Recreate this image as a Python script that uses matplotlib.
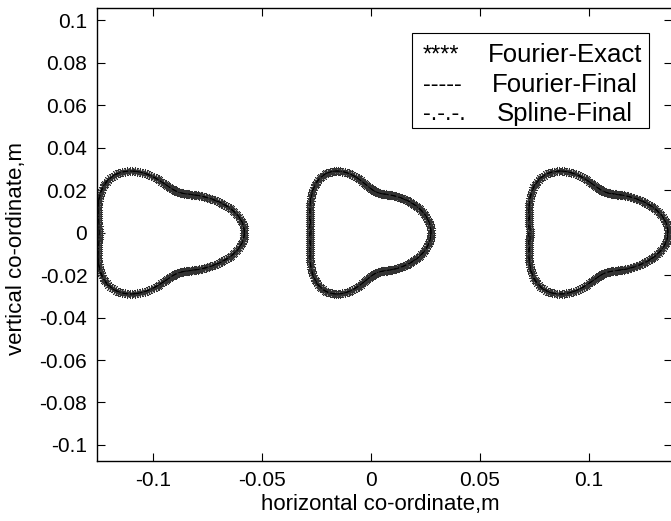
import numpy as np
import matplotlib
matplotlib.use("Agg")
import matplotlib.pyplot as plt

plt.rcParams['font.family'] = ['Liberation Sans', 'DejaVu Sans']

# Horizontal extent of each section: leading edge and trailing tip (m)
section_left = [-0.1252, -0.0280, 0.0725]
section_right = [-0.0581, 0.0275, 0.1362]
pole_offset = 0.008          # pole of the polar description

# Cosine coefficients of the polar radius r(theta) = sum a_k cos(k theta), in m
fourier_exact = [0.02880, -0.00472, 0.00589, 0.00444, -0.00158, 0.00080, 0.00030, 0.00005, 0.00006]
fourier_final = [0.02885, -0.00468, 0.00595, 0.00438, -0.00150, 0.00072, 0.00036, 0.00000, 0.00004]
spline_final = [0.02878, -0.00476, 0.00584, 0.00450, -0.00162, 0.00086, 0.00026, 0.00008, 0.00002]

xticks = [-0.1, -0.05, 0, 0.05, 0.1]
xticklabels = ['-0.1', '-0.05', '0', '0.05', '0.1']
yticks = [0.1, 0.08, 0.06, 0.04, 0.02, 0, -0.02, -0.04, -0.06, -0.08, -0.1]
yticklabels = ['0.1', '0.08', '0.06', '0.04', '0.02', '0', '-0.02', '-0.04', '-0.06', '-0.08', '-0.1']

legend_marks = ['****', '-----', '-.-.-.']
legend_names = ['Fourier-Exact', 'Fourier-Final', 'Spline-Final']


def local_outline(coef, n):
    t = np.linspace(0, 2 * np.pi, n, endpoint=False)
    r = sum(a * np.cos(k * t) for k, a in enumerate(coef))
    x = pole_offset + r * np.cos(t)
    y = r * np.sin(t)
    return np.r_[x, x[:1]], np.r_[y, y[:1]]


# reference span of the exact section, used to place each section between its edges
_bx, _ = local_outline(fourier_exact, 2000)
base_lo, base_hi = _bx.min(), _bx.max()


def placed(coef, i, n):
    x, y = local_outline(coef, n)
    s = (section_right[i] - section_left[i]) / (base_hi - base_lo)
    return section_left[i] + (x - base_lo) * s, y


W, H = 671, 521
fig = plt.figure(figsize=(W / 100, H / 100), dpi=100)
ax = fig.add_axes([97 / W, (H - 461) / H, 575 / W, 453 / H])

for i in range(len(section_left)):
    xs, ys = placed(fourier_exact, i, 220)
    ax.plot(xs, ys, linestyle='none', marker=(8, 2, 0), markersize=6.5,
            markeredgewidth=0.6, color='0.2')
    xs, ys = placed(fourier_final, i, 400)
    ax.plot(xs, ys, linestyle=(0, (5, 3)), linewidth=0.7, color='k')
    xs, ys = placed(spline_final, i, 400)
    ax.plot(xs, ys, linestyle=(0, (6, 2, 1, 2)), linewidth=0.7, color='k')

ax.set_xlim(-0.12569, 0.13807)
ax.set_ylim(-0.10753, 0.10565)
ax.set_xticks(xticks)
ax.set_xticklabels(xticklabels)
ax.set_yticks(yticks)
ax.set_yticklabels(yticklabels)
ax.tick_params(direction='in', length=6, width=0.8, labelsize=15,
               top=True, right=True, color='k')
ax.tick_params(axis='x', pad=7)
ax.tick_params(axis='y', pad=7)
for s in ax.spines.values():
    s.set_linewidth(1.0)
    s.set_color('k')

ax.set_xlabel('horizontal co-ordinate,m', fontsize=16, va='baseline')
ax.xaxis.set_label_coords(0.493, -(510 - 461) / 453, transform=ax.transAxes)
ax.set_ylabel('vertical co-ordinate,m', fontsize=16)
ax.yaxis.set_label_coords(-0.122, 0.468, transform=ax.transAxes)

# Legend drawn as a framed text box
px2x = lambda px: (px - 97) / 575
px2y = lambda py: (461 - py) / 453
box = plt.Rectangle((px2x(412), px2y(128)), px2x(649) - px2x(412), px2y(33) - px2y(128),
                    transform=ax.transAxes, facecolor='white', edgecolor='k', linewidth=0.8, zorder=5)
ax.add_patch(box)
for i, (m, nme) in enumerate(zip(legend_marks, legend_names)):
    yc = px2y(55.5 + 29.5 * i)
    ax.text(px2x(423), yc, m, transform=ax.transAxes, fontsize=17, va='center', ha='left', zorder=6)
    ax.text(px2x(565), yc, nme, transform=ax.transAxes, fontsize=18.5, va='center', ha='center', zorder=6)

fig.savefig("out.png", dpi=100)
